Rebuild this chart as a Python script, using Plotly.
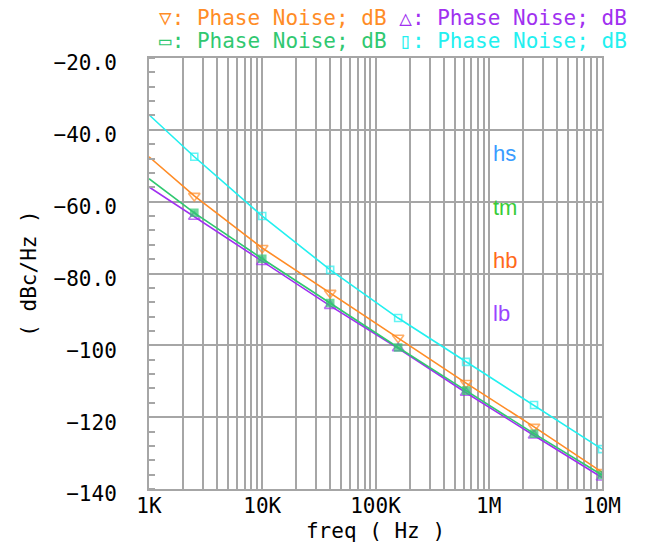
import plotly.graph_objects as go

# ---- data ----
freq = [1000, 2512, 10000, 39811, 158489, 630957, 2511886, 10000000]
hb_orange = [-47.5, -58.4, -72.9, -85.4, -97.9, -110.5, -122.7, -135.3]
lb_purple = [-55.9, -64.2, -76.8, -89.0, -100.8, -113.2, -125.1, -136.8]
tm_green = [-53.6, -63.1, -75.9, -88.2, -100.6, -112.6, -124.6, -136.1]
hs_cyan = [-35.8, -47.5, -64.0, -79.0, -92.4, -104.6, -116.6, -128.9]

y_tickvals = [-20, -40, -60, -80, -100, -120, -140]
y_ticktext = ["\u221220.0", "\u221240.0", "\u221260.0", "\u221280.0", "\u2212100", "\u2212120", "\u2212140"]
x_alias = {"1k": "1K", "10k": "10K", "100k": "100K", "1M": "1M", "10M": "10M"}

series = [
    ("hb", hb_orange, "#ff8c26", "triangle-down-open", 10),
    ("lb", lb_purple, "#a030f0", "triangle-up-open", 10),
    ("tm", tm_green, "#30c870", "square", 7),
    ("hs", hs_cyan, "#22f0f0", "square-open", 7),
]

GRID = "#a6a6a6"
MONO = "DejaVu Sans Mono"

fig = go.Figure()
for name, vals, col, sym, sz in series:
    sizes = [0] + [sz] * (len(freq) - 1)
    fig.add_trace(go.Scatter(
        x=freq, y=vals, mode="lines+markers", name=name,
        line=dict(color=col, width=1.6),
        marker=dict(symbol=sym, size=sizes, color=col, line=dict(color=col, width=1.6)),
        showlegend=False,
    ))

fig.update_layout(
    width=649, height=543,
    margin=dict(l=149, r=47, t=58, b=54),
    paper_bgcolor="white", plot_bgcolor="white",
    font=dict(family=MONO, size=21, color="black"),
)

fig.update_xaxes(
    type="log", range=[3, 7], dtick=1, tick0=0, tickformat="~s", labelalias=x_alias,
    showgrid=True, gridcolor=GRID, gridwidth=2,
    minor=dict(dtick="D1", showgrid=True, gridcolor=GRID, gridwidth=2),
    showline=True, mirror=True, linecolor=GRID, linewidth=2,
    ticks="", ticklabelstandoff=-3, tickfont=dict(family=MONO, size=21),
    title=dict(text="freq ( Hz )", font=dict(family=MONO, size=21), standoff=8),
    zeroline=False, automargin=False,
)
fig.update_yaxes(
    range=[-140, -20], tickmode="array", tickvals=y_tickvals, ticktext=y_ticktext,
    showgrid=True, gridcolor=GRID, gridwidth=2,
    minor=dict(dtick=4, tick0=-20, ticks="inside", ticklen=6, tickcolor=GRID, tickwidth=1.5, showgrid=False),
    showline=True, mirror=True, linecolor=GRID, linewidth=2,
    ticks="", ticklabelstandoff=26, ticklabelshift=5,
    tickfont=dict(family=MONO, size=21),
    title=dict(text="( dBc/Hz )", font=dict(family=MONO, size=21), standoff=11),
    zeroline=False, automargin=False,
)

# legend-like header text
line1 = ("<span style='color:#ff8c26'>\u25bd: Phase Noise; dB</span> "
         "<span style='color:#a030f0'>\u25b3: Phase Noise; dB</span>")
line2 = ("<span style='color:#30c870'>\u25ad: Phase Noise; dB</span> "
         "<span style='color:#22f0f0'>\u25af: Phase Noise; dB</span>")
for txt, ypx in [(line1, 18), (line2, 41)]:
    fig.add_annotation(
        text=txt, xref="paper", yref="paper",
        x=(157 - 149) / 453, y=(489 - ypx) / 431,
        xanchor="left", yanchor="middle", align="left", showarrow=False,
        font=dict(family=MONO, size=21),
    )

# curve labels
for lab, col, ypx in [("hs", "#3a9cff", 153), ("tm", "#38cc38", 208),
                      ("hb", "#ff6a1a", 260), ("lb", "#9a44ff", 313)]:
    fig.add_annotation(
        text=lab, xref="paper", yref="paper",
        x=(491 - 149) / 453, y=(489 - ypx) / 431,
        xanchor="left", yanchor="middle", showarrow=False,
        font=dict(family="Liberation Sans", size=22, color=col),
    )

fig.write_html("out.html", config={"displayModeBar": False},
               post_script="document.body.style.margin='0px';")
